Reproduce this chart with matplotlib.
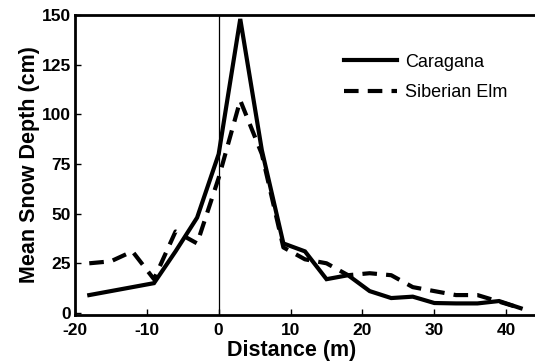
import numpy as np
import matplotlib
matplotlib.use('Agg')
import matplotlib.pyplot as plt

# Donnees
distance = [-18, -15, -12, -9, -6, -3, 0, 3, 6, 9, 12, 15, 18, 21, 24, 27, 30, 33, 36, 39, 42]
caragana = [9, 11, 13, 15, 31, 48, 80, 148, 82, 35, 31, 17, 19, 11, 7.5, 8.2, 5, 4.8, 4.8, 6, 2.4]
siberian_elm = [25, 26, 31, 17, 41, 35, 68, 107, 80, 33, 27, 25, 19, 20, 19, 13, 11, 9, 9, 5.7, 2.4]

xticks = [-20, -10, 0, 10, 20, 30, 40]
yticks = [0, 25, 50, 75, 100, 125, 150]

plt.rcParams['font.family'] = ['Liberation Sans', 'DejaVu Sans']
plt.rcParams['axes.unicode_minus'] = False

fig = plt.figure(figsize=(5.35, 3.62), dpi=100)
ax = fig.add_axes([0.140, 0.130, 0.860, 0.8286])

ax.axvline(0, color='black', lw=0.9)
ax.plot(distance, caragana, color='black', lw=3, solid_joinstyle='miter', label='Caragana')
ax.plot(distance, siberian_elm, color='black', lw=3, dashes=(3.5, 2.2), label='Siberian Elm')

ax.set_xlim(-19.7, 44.0)
ax.set_ylim(-1, 150)
ax.set_xticks(xticks)
ax.set_yticks(yticks)

for s in ['top', 'bottom', 'left']:
    ax.spines[s].set_linewidth(2)
ax.spines['right'].set_visible(False)

ax.tick_params(direction='in', length=4, width=1, labelsize=12.5)
ax.tick_params(axis='x', pad=6)
ax.tick_params(axis='y', pad=3)
for lab in ax.get_xticklabels() + ax.get_yticklabels():
    lab.set_fontweight('bold')

ax.set_xlabel('Distance (m)', fontsize=15.5, fontweight='bold', labelpad=1)
ax.xaxis.set_label_coords(0.47, -0.085, transform=ax.transAxes)
ax.xaxis.label.set_va('top')
ax.set_ylabel('Mean Snow Depth (cm)', fontsize=15.5, fontweight='bold', labelpad=1)

leg = ax.legend(loc='upper left', bbox_to_anchor=(0.55, 0.925), frameon=False,
                fontsize=13, handlelength=2.9, handletextpad=0.45, labelspacing=0.75)

fig.savefig('out.png', dpi=100)
